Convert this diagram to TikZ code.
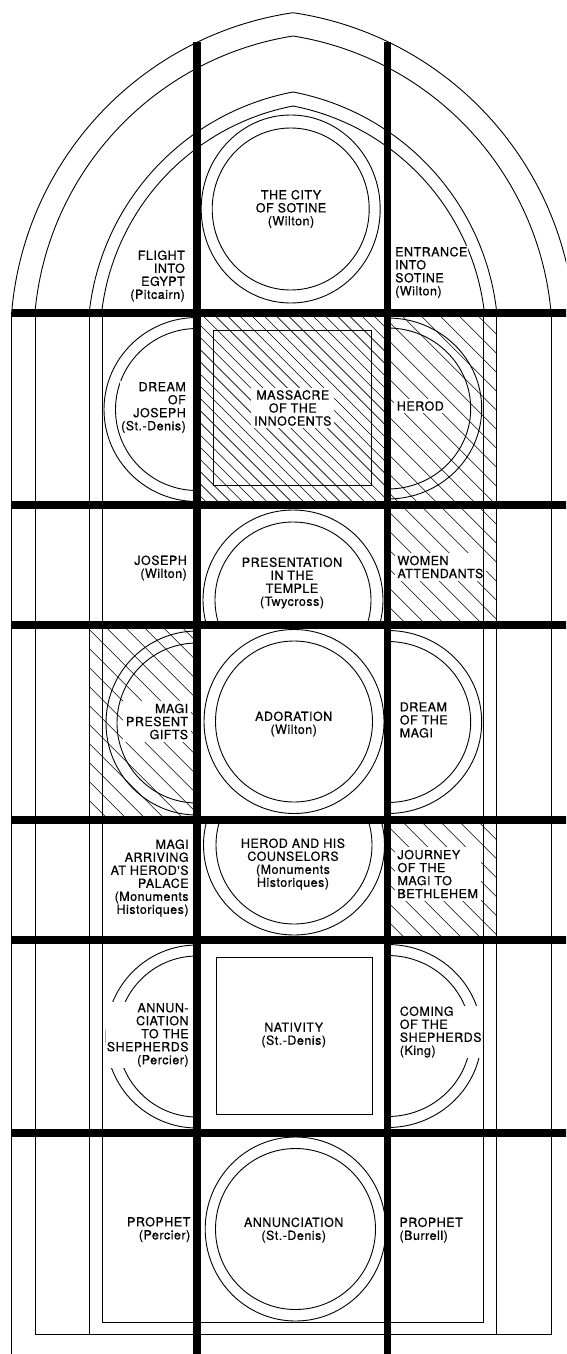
\documentclass[tikz,border=0pt]{standalone}
\usepackage{fontspec}
\newfontfamily\hv[LetterSpace=4,FakeBold=0.6]{TeX Gyre Heros}
\pgfdeclarelayer{bg}
\pgfsetlayers{bg,main}
\tikzset{
  glass/.style={line width=0.9pt},
  hatchline/.style={line width=0.6pt},
  bar/.style={line width=8pt},
  mullion/.style={line width=7.3pt},
  lbl/.style={font=\hv\fontsize{12.5}{13}\selectfont, fill=white, inner sep=0.8pt},
  hlbl/.style={font=\hv\fontsize{12.5}{13}\selectfont, inner sep=2.5pt},
}
% #1..#4 = x1,y1,x2,y2 ; #5 = horizontal spacing of the hatch lines
\newcommand\hatchregion[5]{%
  \begin{scope}
    \clip (#1,#2) rectangle (#3,#4);
    \pgfmathsetmacro\hcA{#1-#4}%
    \pgfmathsetmacro\hcN{int(ceil((#3-#2-#1+#4)/#5))}%
    \foreach \k in {0,...,\hcN}{%
      \pgfmathsetmacro\hc{\hcA+#5*\k}%
      \draw[hatchline] ({\hc+#2},#2) -- ({\hc+#4},#4);
    }
  \end{scope}}
\newcommand\maskbox[1]{\fill[white] (#1.south west) rectangle (#1.north east);}
\begin{document}
\begin{tikzpicture}[x=1pt,y=-1pt]
\useasboundingbox (0,0) rectangle (566,1354);
\clip (0,0) rectangle (566,1354);

% pointed arches
\foreach \ya/\r/\aa/\as in {12.7/330.86/98.41/175.145, 36/307.86/99.08/174.78, 92/252.45/100.77/173.63, 106/238.37/100.98/173.25}{
  \draw[glass] (293,\ya) arc[start angle=-\aa, end angle=-\as, radius=\r];
  \draw[glass] (293,\ya) arc[start angle=-180+\aa, end angle=-180+\as, radius=\r];
}

% vertical borders
\draw[glass] (11.7,312) -- (11.7,1354);
\draw[glass] (574.3,312) -- (574.3,1354);
\draw[glass] (35,312) -- (35,1334) -- (551,1334) -- (551,312);
\draw[glass] (89.3,312) -- (89.3,1334);
\draw[glass] (496.7,312) -- (496.7,1334);
\draw[glass] (102.5,312) -- (102.5,1322) -- (483.5,1322) -- (483.5,312);

% medallions
\draw[glass] (290.7,209) ellipse[x radius=89.5,y radius=94];
\draw[glass] (290.7,209) ellipse[x radius=78.5,y radius=81];

\begin{scope}\clip (0,312.5) rectangle (197,505);
  \draw[glass] (197,409.5) ellipse[x radius=93,y radius=92];
  \draw[glass] (197,409.5) ellipse[x radius=81.5,y radius=81];
\end{scope}
\begin{scope}\clip (387.7,312.5) rectangle (566,505);
  \draw[glass] (387.7,408.5) ellipse[x radius=94,y radius=90.5];
  \draw[glass] (387.7,408.5) ellipse[x radius=83,y radius=80.5];
\end{scope}
\draw[glass] (213.3,330) rectangle (371.7,485.7);

\begin{scope}\clip (197,505) rectangle (387.7,624.5);
  \draw[glass] (293,600) ellipse[x radius=90,y radius=90];
  \draw[glass] (293,600) ellipse[x radius=78,y radius=78];
\end{scope}

\draw[glass] (294,721.5) ellipse[x radius=90,y radius=92];
\draw[glass] (294,721.5) ellipse[x radius=78.5,y radius=80.5];
\begin{scope}\clip (0,624.5) rectangle (197,819.5);
  \draw[glass] (197,723) ellipse[x radius=91,y radius=92];
  \draw[glass] (197,723) ellipse[x radius=80,y radius=80];
\end{scope}
\begin{scope}\clip (387.7,624.5) rectangle (566,819.5);
  \draw[glass] (387.7,722) ellipse[x radius=94,y radius=91.5];
  \draw[glass] (387.7,722) ellipse[x radius=83,y radius=80.5];
\end{scope}

\begin{scope}\clip (197,819.5) rectangle (387.7,940);
  \draw[glass] (294,845) ellipse[x radius=90.5,y radius=90];
  \draw[glass] (294,845) ellipse[x radius=78,y radius=79];
\end{scope}

\begin{scope}\clip (0,940) rectangle (197,1132.5);
  \draw[glass] (197,1036.5) ellipse[x radius=91,y radius=91.5];
  \draw[glass] (197,1036.5) ellipse[x radius=79.5,y radius=80.5];
\end{scope}
\begin{scope}\clip (387.7,940) rectangle (566,1132.5);
  \draw[glass] (387.7,1036) ellipse[x radius=94,y radius=91.5];
  \draw[glass] (387.7,1036) ellipse[x radius=83,y radius=80.5];
\end{scope}
\draw[glass] (216,957) rectangle (372.5,1114);

\draw[glass] (295.5,1229) ellipse[x radius=90.3,y radius=92];
\draw[glass] (295.5,1229) ellipse[x radius=80,y radius=80.5];

% labels
\node[lbl, align=center] (city) at (291,209) {THE CITY\\OF SOTINE\\(Wilton)};
\node[lbl, anchor=east, align=right] (flight) at (185.8,276) {FLIGHT\\INTO\\EGYPT\\(Pitcairn)};
\node[lbl, anchor=west, align=left] (entrance) at (394.2,272.5) {ENTRANCE\\INTO\\SOTINE\\(Wilton)};
\node[lbl, anchor=east, align=right] (dreamjoseph) at (186.8,407.5) {DREAM\\OF\\JOSEPH\\(St.-Denis)};
\node[hlbl, align=center] (massacre) at (292.8,408) {MASSACRE\\OF THE\\INNOCENTS};
\node[hlbl, anchor=west, align=left] (herod) at (394.2,406) {HEROD};
\node[lbl, anchor=east, align=right] (joseph) at (187.8,568) {JOSEPH\\(Wilton)};
\node[lbl, align=center] (presentation) at (292,583) {PRESENTATION\\IN THE\\TEMPLE\\(Twycross)};
\node[hlbl, anchor=west, align=left] (women) at (394.8,567) {WOMEN\\ATTENDANTS};
\node[hlbl, anchor=east, align=right] (magipresent) at (190.8,721.5) {MAGI\\PRESENT\\GIFTS};
\node[lbl, align=center] (adoration) at (293.7,724) {ADORATION\\(Wilton)};
\node[lbl, anchor=west, align=left] (dreammagi) at (398.8,720) {DREAM\\OF THE\\MAGI};
\node[lbl, anchor=east, align=right] (magiarriving) at (189.6,878) {MAGI\\ARRIVING\\AT HEROD'S\\PALACE\\(Monuments\\Historiques)};
\node[lbl, align=center] (herodcouns) at (293,864) {HEROD AND HIS\\COUNSELORS\\(Monuments\\Historiques)};
\node[hlbl, anchor=west, align=left] (journey) at (394.8,874) {JOURNEY\\OF THE\\MAGI TO\\BETHLEHEM};
\node[lbl, anchor=east, align=right] (annshep) at (189.6,1035) {ANNUN-\\CIATION\\TO THE\\SHEPHERDS\\(Percier)};
\node[lbl, align=center] (nativity) at (293.7,1035) {NATIVITY\\(St.-Denis)};
\node[lbl, anchor=west, align=left] (coming) at (398.8,1032) {COMING\\OF THE\\SHEPHERDS\\(King)};
\node[lbl, anchor=east, align=right] (prophetL) at (191.3,1229.5) {PROPHET\\(Percier)};
\node[lbl, align=center] (annunciation) at (293.7,1230) {ANNUNCIATION\\(St.-Denis)};
\node[lbl, anchor=west, align=left] (prophetR) at (398.5,1230) {PROPHET\\(Burrell)};

% lead bars and mullions
\foreach \yb in {312.5,505,624.5,819.5,940,1132.5}
  \draw[bar] (11.7,\yb) -- (575,\yb);
\draw[mullion] (197,42.3) -- (197,1354);
\draw[mullion] (387.7,41.7) -- (387.7,1354);

% background: white ground, hatched panels, gaps round the labels
\begin{pgfonlayer}{bg}
  \fill[white] (0,0) rectangle (566,1354);
  \hatchregion{197}{312.5}{387.7}{505}{12.2}
  \hatchregion{387.7}{312.5}{496.7}{624.5}{19}
  \hatchregion{89.3}{624.5}{197}{819.5}{19}
  \hatchregion{387.7}{819.5}{496.7}{940}{19}
  \maskbox{massacre}
  \maskbox{herod}
  \maskbox{women}
  \maskbox{magipresent}
  \maskbox{journey}
\end{pgfonlayer}
\end{tikzpicture}
\end{document}
